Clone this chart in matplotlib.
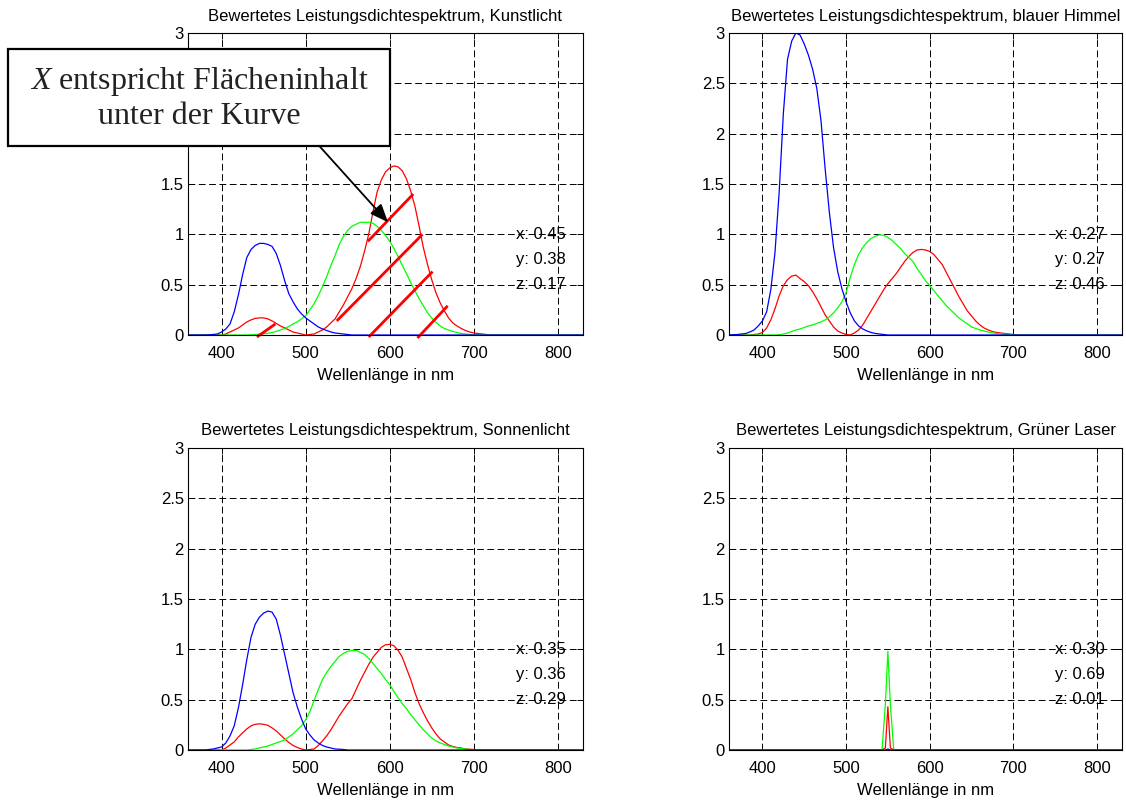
import matplotlib
matplotlib.use("Agg")
import matplotlib.pyplot as plt
from matplotlib.patches import Rectangle
from matplotlib.ticker import FuncFormatter

plt.rcParams['font.family'] = ['Liberation Sans', 'DejaVu Sans']
plt.rcParams['mathtext.fontset'] = 'custom'
plt.rcParams['mathtext.it'] = 'Liberation Serif:italic'
plt.rcParams['mathtext.rm'] = 'Liberation Serif'

# Raster 370..720 nm in 5-nm-Schritten, ausserhalb (360 / 830) ist alles 0
wl = [360] + list(range(370, 721, 5)) + [830]

# --- Kunstlicht
kunst_x = [0, 0, 0, 0, 0, 0, 0, 0.01, 0.03, 0.05,
           0.07, 0.10, 0.13, 0.15, 0.165, 0.17, 0.17, 0.16, 0.14, 0.115,
           0.09, 0.07, 0.05, 0.03, 0.02, 0.01, 0.0, 0.005, 0.01, 0.03,
           0.05, 0.08, 0.12, 0.16, 0.23, 0.30, 0.38, 0.46, 0.56, 0.68,
           0.83, 1.0, 1.22, 1.42, 1.54, 1.62, 1.66, 1.68, 1.67, 1.63,
           1.55, 1.43, 1.28, 1.08, 0.87, 0.70, 0.55, 0.42, 0.32, 0.24,
           0.17, 0.12, 0.09, 0.065, 0.045, 0.03, 0.02, 0.015, 0.01, 0.005,
           0]
kunst_y = [0, 0, 0, 0, 0, 0, 0, 0, 0, 0,
           0, 0, 0, 0.002, 0.005, 0.01, 0.012, 0.017, 0.025, 0.035,
           0.05, 0.065, 0.085, 0.11, 0.13, 0.16, 0.19, 0.25, 0.31, 0.39,
           0.48, 0.58, 0.69, 0.79, 0.90, 0.98, 1.04, 1.08, 1.10, 1.12,
           1.12, 1.12, 1.11, 1.08, 1.04, 0.99, 0.93, 0.86, 0.78, 0.69,
           0.61, 0.52, 0.44, 0.36, 0.29, 0.22, 0.17, 0.125, 0.09, 0.065,
           0.05, 0.035, 0.025, 0.015, 0.01, 0.005, 0, 0, 0, 0,
           0]
kunst_z = [0, 0, 0, 0.002, 0.005, 0.01, 0.03, 0.06, 0.11, 0.23,
           0.40, 0.60, 0.77, 0.85, 0.89, 0.91, 0.91, 0.90, 0.88, 0.81,
           0.69, 0.54, 0.41, 0.33, 0.26, 0.21, 0.17, 0.14, 0.11, 0.08,
           0.06, 0.045, 0.03, 0.02, 0.015, 0.01, 0.005, 0, 0, 0,
           0, 0, 0, 0, 0, 0, 0, 0, 0, 0,
           0, 0, 0, 0, 0, 0, 0, 0, 0, 0,
           0, 0, 0, 0, 0, 0, 0, 0, 0, 0,
           0]

# --- blauer Himmel
himmel_x = [0, 0, 0, 0, 0.005, 0.01, 0.025, 0.07, 0.15, 0.26,
            0.39, 0.49, 0.55, 0.585, 0.595, 0.56, 0.53, 0.49, 0.43, 0.36,
            0.28, 0.20, 0.14, 0.08, 0.04, 0.02, 0.005, 0.0, 0.02, 0.05,
            0.10, 0.17, 0.24, 0.31, 0.38, 0.45, 0.51, 0.56, 0.61, 0.67,
            0.73, 0.78, 0.82, 0.845, 0.85, 0.845, 0.83, 0.80, 0.75, 0.70,
            0.62, 0.54, 0.46, 0.38, 0.31, 0.24, 0.19, 0.14, 0.10, 0.07,
            0.05, 0.035, 0.025, 0.02, 0.015, 0.01, 0.005, 0, 0, 0,
            0]
himmel_y = [0, 0, 0, 0, 0, 0, 0, 0, 0, 0,
            0.002, 0.01, 0.02, 0.035, 0.05, 0.06, 0.075, 0.09, 0.10, 0.115,
            0.13, 0.15, 0.18, 0.22, 0.27, 0.33, 0.42, 0.57, 0.70, 0.80,
            0.87, 0.92, 0.96, 0.98, 0.995, 0.99, 0.97, 0.94, 0.90, 0.86,
            0.81, 0.77, 0.73, 0.66, 0.60, 0.54, 0.49, 0.44, 0.39, 0.34,
            0.29, 0.25, 0.21, 0.17, 0.14, 0.11, 0.08, 0.065, 0.05, 0.04,
            0.03, 0.02, 0.015, 0.01, 0.008, 0.005, 0, 0, 0, 0,
            0]
himmel_z = [0.005, 0.01, 0.015, 0.03, 0.05, 0.09, 0.14, 0.23, 0.45, 0.82,
            1.42, 2.2, 2.74, 2.92, 3.0, 2.98, 2.89, 2.78, 2.64, 2.45,
            2.13, 1.65, 1.22, 0.87, 0.63, 0.46, 0.33, 0.22, 0.14, 0.09,
            0.06, 0.04, 0.025, 0.015, 0.01, 0.005, 0, 0, 0, 0,
            0, 0, 0, 0, 0, 0, 0, 0, 0, 0,
            0, 0, 0, 0, 0, 0, 0, 0, 0, 0,
            0, 0, 0, 0, 0, 0, 0, 0, 0, 0,
            0]

# --- Sonnenlicht
sonne_x = [0, 0, 0, 0, 0, 0, 0, 0.02, 0.05, 0.08,
           0.13, 0.17, 0.21, 0.24, 0.255, 0.26, 0.255, 0.245, 0.22, 0.19,
           0.15, 0.11, 0.075, 0.045, 0.025, 0.01, 0.0, 0.005, 0.01, 0.045,
           0.09, 0.14, 0.20, 0.27, 0.34, 0.40, 0.46, 0.51, 0.60, 0.69,
           0.77, 0.85, 0.92, 0.97, 1.02, 1.045, 1.05, 1.035, 0.99, 0.92,
           0.81, 0.70, 0.57, 0.46, 0.37, 0.29, 0.22, 0.16, 0.11, 0.08,
           0.05, 0.035, 0.025, 0.02, 0.01, 0.008, 0.005, 0, 0, 0,
           0]
sonne_y = [0, 0, 0, 0, 0, 0, 0, 0, 0, 0,
           0, 0, 0, 0.005, 0.01, 0.02, 0.03, 0.04, 0.055, 0.07,
           0.085, 0.10, 0.13, 0.16, 0.20, 0.24, 0.30, 0.38, 0.49, 0.60,
           0.70, 0.77, 0.83, 0.88, 0.93, 0.96, 0.98, 0.99, 0.99, 0.97,
           0.95, 0.91, 0.86, 0.81, 0.76, 0.70, 0.65, 0.58, 0.52, 0.46,
           0.41, 0.35, 0.30, 0.25, 0.20, 0.16, 0.12, 0.09, 0.07, 0.055,
           0.04, 0.03, 0.02, 0.015, 0.01, 0.005, 0, 0, 0, 0,
           0]
sonne_z = [0, 0, 0, 0.005, 0.01, 0.02, 0.03, 0.07, 0.14, 0.24,
           0.42, 0.65, 0.90, 1.12, 1.25, 1.32, 1.36, 1.38, 1.37, 1.30,
           1.14, 0.95, 0.76, 0.57, 0.43, 0.31, 0.21, 0.15, 0.10, 0.07,
           0.045, 0.03, 0.02, 0.01, 0.008, 0.005, 0, 0, 0, 0,
           0, 0, 0, 0, 0, 0, 0, 0, 0, 0,
           0, 0, 0, 0, 0, 0, 0, 0, 0, 0,
           0, 0, 0, 0, 0, 0, 0, 0, 0, 0,
           0]

# --- Gruener Laser: eigenes Raster um 550 nm
laser_wl = [360, 543, 547, 550, 553, 557, 830]
laser_x = [0, 0, 0.02, 0.43, 0.02, 0, 0]
laser_y = [0, 0, 0.45, 0.98, 0.45, 0, 0]
laser_z = [0, 0, 0.0, 0.01, 0.0, 0, 0]

titles = ["Kunstlicht", "blauer Himmel", "Sonnenlicht", "Grüner Laser"]
coords = [("0.45", "0.38", "0.17"), ("0.27", "0.27", "0.46"),
          ("0.35", "0.36", "0.29"), ("0.30", "0.69", "0.01")]


def pad0(v):
    return [0] + v + [0]


panels = [(wl, pad0(kunst_x), pad0(kunst_y), pad0(kunst_z)),
          (wl, pad0(himmel_x), pad0(himmel_y), pad0(himmel_z)),
          (wl, pad0(sonne_x), pad0(sonne_y), pad0(sonne_z)),
          (laser_wl, laser_x, laser_y, laser_z)]

# Schraffur "Flaeche unter der Kurve" (nm, Wert)
hatch = [((442, -0.02), (464, 0.11)),
         ((537, 0.14), (639, 1.0)),
         ((575, -0.02), (651, 0.63)),
         ((633, -0.03), (669, 0.29)),
         ((574, 0.93), (628, 1.40))]

W, H = 1126, 801
fig = plt.figure(figsize=(W / 100, H / 100), dpi=100)

# Achsen in Pixeln: links, oben, rechts, unten
boxes = [(188, 33, 583, 335), (729, 33, 1122, 335),
         (188, 448, 583, 750), (729, 448, 1122, 750)]

fmt = FuncFormatter(lambda v, p: "%g" % v)
axes = []
for i, (l, t, r, b) in enumerate(boxes):
    ax = fig.add_axes([l / W, 1 - b / H, (r - l) / W, (b - t) / H])
    x, cx, cy, cz = panels[i]
    ax.plot(x, cx, color="#ff0000", lw=0.9)
    ax.plot(x, cy, color="#00ff00", lw=0.9)
    ax.plot(x, cz, color="#0000ff", lw=0.9)
    ax.set_xlim(360, 830)
    ax.set_ylim(0, 3)
    ax.set_xticks([400, 500, 600, 700, 800])
    ax.set_yticks([0, 0.5, 1, 1.5, 2, 2.5, 3])
    ax.yaxis.set_major_formatter(fmt)
    ax.grid(True, color="black", linestyle=(0, (7, 3.6)), lw=0.7)
    ax.tick_params(direction="in", top=True, right=True, labelsize=12, length=4, width=0.7)
    ax.tick_params(axis="x", pad=8)
    ax.tick_params(axis="y", pad=3)
    for s in ax.spines.values():
        s.set_linewidth(0.8)
    ax.set_title("Bewertetes Leistungsdichtespektrum, " + titles[i], fontsize=12, pad=9)
    ax.set_xlabel("Wellenlänge in nm", fontsize=12, labelpad=5)
    for lbl, val, yv in zip(("x", "y", "z"), coords[i], (1.0, 0.75, 0.5)):
        ax.text(750, yv, "%s: %s" % (lbl, val), fontsize=12, va="center", ha="left")
    axes.append(ax)

ax0 = axes[0]
for (x0, y0), (x1, y1) in hatch:
    ax0.plot([x0, x1], [y0, y1], color="#ff0000", lw=2, clip_on=False, solid_capstyle="butt")

ax0.annotate("", xy=(598, 1.12), xytext=(516, 1.88),
             arrowprops=dict(arrowstyle="-|>,head_length=1.1,head_width=0.45",
                             color="black", lw=1.3, shrinkA=0, shrinkB=0),
             annotation_clip=False)

fig.patches.append(Rectangle((8 / W, 1 - 146 / H), 382 / W, 97 / H, transform=fig.transFigure,
                             facecolor="white", edgecolor="black", lw=1.6, zorder=5))
fig.text(199 / W, 1 - 98 / H, "$X$ entspricht Flächeninhalt\nunter der Kurve",
         family="Liberation Serif", fontsize=23, ha="center", va="center",
         linespacing=1.2, color="#222222", zorder=6)

fig.savefig("out.png", dpi=100)
